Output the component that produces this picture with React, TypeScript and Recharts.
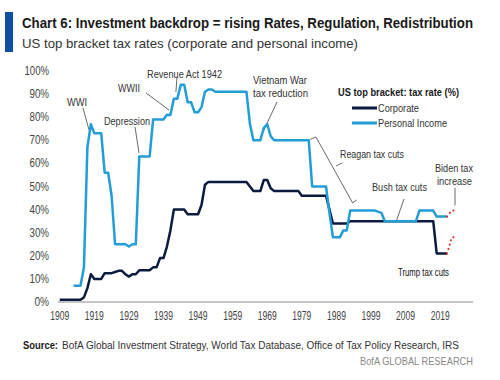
import React from 'react';
import { LineChart, Line, XAxis, YAxis, ReferenceLine } from 'recharts';

const years = [
  1909, 1910, 1911, 1912, 1913, 1914, 1915, 1916, 1917, 1918,
  1919, 1920, 1921, 1922, 1923, 1924, 1925, 1926, 1927, 1928,
  1929, 1930, 1931, 1932, 1933, 1934, 1935, 1936, 1937, 1938,
  1939, 1940, 1941, 1942, 1943, 1944, 1945, 1946, 1947, 1948,
  1949, 1950, 1951, 1952, 1953, 1954, 1955, 1956, 1957, 1958,
  1959, 1960, 1961, 1962, 1963, 1964, 1965, 1966, 1967, 1968,
  1969, 1970, 1971, 1972, 1973, 1974, 1975, 1976, 1977, 1978,
  1979, 1980, 1981, 1982, 1983, 1984, 1985, 1986, 1987, 1988,
  1989, 1990, 1991, 1992, 1993, 1994, 1995, 1996, 1997, 1998,
  1999, 2000, 2001, 2002, 2003, 2004, 2005, 2006, 2007, 2008,
  2009, 2010, 2011, 2012, 2013, 2014, 2015, 2016, 2017, 2018,
  2019, 2020, 2021,
];

const corporate = [
  1, 1, 1, 1, 1, 1, 1, 2, 6, 12,
  10, 10, 10, 12.5, 12.5, 12.5, 13, 13.5, 13.5, 12,
  11, 12, 12, 13.75, 13.75, 13.75, 13.75, 15, 15, 19,
  19, 24, 31, 40, 40, 40, 40, 38, 38, 38,
  38, 42, 50.75, 52, 52, 52, 52, 52, 52, 52,
  52, 52, 52, 52, 52, 50, 48, 48, 48, 52.8,
  52.8, 49.2, 48, 48, 48, 48, 48, 48, 48, 48,
  46, 46, 46, 46, 46, 46, 46, 46, 40, 34,
  34, 34, 34, 34, 35, 35, 35, 35, 35, 35,
  35, 35, 35, 35, 35, 35, 35, 35, 35, 35,
  35, 35, 35, 35, 35, 35, 35, 35, 35, 21,
  21, 21, 21,
];

const personal = [
  null, null, null, null, 7, 7, 7, 15, 67, 77,
  73, 73, 73, 56, 56, 46, 25, 25, 25, 25,
  24, 25, 25, 63, 63, 63, 63, 79, 79, 79,
  79, 81.1, 81, 88, 88, 94, 94, 86.45, 86.45, 82.13,
  82.13, 84.36, 91, 92, 92, 91, 91, 91, 91, 91,
  91, 91, 91, 91, 91, 77, 70, 70, 70, 75.25,
  77, 71.75, 70, 70, 70, 70, 70, 70, 70, 70,
  70, 70, 70, 50, 50, 50, 50, 50, 38.5, 28,
  28, 28, 31, 31, 39.6, 39.6, 39.6, 39.6, 39.6, 39.6,
  39.6, 39.6, 39.1, 38.6, 35, 35, 35, 35, 35, 35,
  35, 35, 35, 35, 39.6, 39.6, 39.6, 39.6, 39.6, 37,
  37, 37, 37,
];

const bidenYears = [2021, 2022.4, 2024];
const bidenCorporate = [21, 28, 28];
const bidenPersonal = [37, 39.6, 39.6];

const xTicks = [1909, 1919, 1929, 1939, 1949, 1959, 1969, 1979, 1989, 1999, 2009, 2019];
const yTicks = [0, 10, 20, 30, 40, 50, 60, 70, 80, 90, 100];

const data = years.map((year, i) => ({ year, corporate: corporate[i], personal: personal[i] }));
const bidenData = bidenYears.map((year, i) => ({ year, corp: bidenCorporate[i], pers: bidenPersonal[i] }));

const FONT = "'Liberation Sans Narrow', 'Liberation Sans', Arial, sans-serif";
const DARK = '#0b1a3f';
const LIGHT = '#229dd8';
const RED = '#e0231c';
const LEAD = '#444';

// leader lines in data coordinates
const leaders: { a: [number, number]; b: [number, number] }[] = [
  { a: [1915.73, 84.0], b: [1917.46, 74.5] },
  { a: [1930.77, 75.8], b: [1931.92, 64.5] },
  { a: [1933.95, 90.5], b: [1940.6, 83.1] },
  { a: [1942.9, 97.4], b: [1942.6, 90.9] },
  { a: [1971.83, 86.6], b: [1967.78, 73.6] },
  { a: [1981.4, 70.4], b: [1983.1, 71.4] },
  { a: [1983.1, 71.4], b: [1993.7, 42.9] },
  { a: [1993.7, 42.9], b: [1994.9, 44.2] },
  { a: [1988.9, 58.9], b: [1990.7, 60.2] },
  { a: [2008.55, 44.6], b: [2006.23, 34.6] },
  { a: [2023.3, 49.4], b: [2023.3, 41.8] },
];

type TProps = { x1: number; x2: number; y: number; size: number; weight?: string | number; fill?: string; children: string };
const T = ({ x1, x2, y, size, weight = 'normal', fill = '#333', children }: TProps) => (
  <text
    x={x1}
    y={y}
    dominantBaseline="central"
    textLength={x2 - x1}
    lengthAdjust="spacingAndGlyphs"
    fontSize={size}
    fontWeight={weight}
    fill={fill}
    fontFamily={FONT}
  >
    {children}
  </text>
);

const XTick = (props: any) => {
  const { x, y, payload } = props;
  return (
    <text
      x={x}
      y={y + 6}
      textAnchor="middle"
      dominantBaseline="central"
      fontSize={12}
      fill="#444"
      fontFamily={FONT}
      textLength={19}
      lengthAdjust="spacingAndGlyphs"
    >
      {String(payload.value)}
    </text>
  );
};

const YTick = (props: any) => {
  const { x, y, payload } = props;
  const label = `${payload.value}%`;
  const len = (label.length - 1) * 5 + 9.5;
  return (
    <text
      x={x}
      y={y}
      textAnchor="end"
      dominantBaseline="central"
      fontSize={12}
      fill="#444"
      fontFamily={FONT}
      textLength={len}
      lengthAdjust="spacingAndGlyphs"
    >
      {label}
    </text>
  );
};

export default function App() {
  return (
    <div style={{ position: 'absolute', left: 0, top: 0, width: 500, height: 380, background: '#fff', overflow: 'hidden' }}>
      <LineChart
        width={500}
        height={380}
        data={data}
        margin={{ top: 71, right: 27, bottom: 48, left: 8 }}
      >
        <XAxis
          dataKey="year"
          type="number"
          domain={[1908.5, 2028.5]}
          ticks={xTicks}
          allowDataOverflow
          tickLine={false}
          axisLine={{ stroke: '#8a8a8a', strokeWidth: 1.2 }}
          tick={<XTick />}
          interval={0}
        />
        <YAxis
          type="number"
          domain={[0, 100]}
          ticks={yTicks}
          width={50}
          axisLine={false}
          tickLine={false}
          tickMargin={3}
          tick={<YTick />}
        />
        {leaders.map((l, i) => (
          <ReferenceLine
            key={i}
            segment={[{ x: l.a[0], y: l.a[1] }, { x: l.b[0], y: l.b[1] }]}
            stroke={LEAD}
            strokeWidth={0.8}
            ifOverflow="visible"
          />
        ))}
        <Line
          dataKey="corporate"
          stroke={DARK}
          strokeWidth={2.5}
          dot={false}
          isAnimationActive={false}
          strokeLinejoin="round"
        />
        <Line
          dataKey="personal"
          stroke={LIGHT}
          strokeWidth={2.5}
          dot={false}
          isAnimationActive={false}
          strokeLinejoin="round"
        />
        <Line
          data={bidenData}
          dataKey="corp"
          stroke={RED}
          strokeWidth={2}
          strokeDasharray="0.1 4.5"
          strokeLinecap="round"
          dot={false}
          isAnimationActive={false}
        />
        <Line
          data={bidenData}
          dataKey="pers"
          stroke={RED}
          strokeWidth={2}
          strokeDasharray="0.1 4.5"
          strokeLinecap="round"
          dot={false}
          isAnimationActive={false}
        />
      </LineChart>
      <svg width={500} height={380} style={{ position: 'absolute', left: 0, top: 0, pointerEvents: 'none' }}>
        <rect x={5} y={12} width={8} height={40} fill="#0c4ea2" />
        <T x1={22} x2={473} y={23} size={13.8} weight="bold" fill="#1a1a1a">Chart 6: Investment backdrop = rising Rates, Regulation, Redistribution</T>
        <T x1={22} x2={358} y={43} size={13} fill="#333">US top bracket tax rates (corporate and personal income)</T>

        <T x1={67} x2={87} y={102} size={11.5}>WWI</T>
        <T x1={104} x2={150} y={121} size={11.5}>Depression</T>
        <T x1={118} x2={140} y={88} size={11.5}>WWII</T>
        <T x1={147} x2={222} y={74} size={11.5}>Revenue Act 1942</T>
        <T x1={253} x2={307} y={80} size={11.5}>Vietnam War</T>
        <T x1={253} x2={308} y={93} size={11.5}>tax reduction</T>
        <T x1={340} x2={404} y={154} size={11.5}>Reagan tax cuts</T>
        <T x1={372} x2={427} y={187} size={11.5}>Bush tax cuts</T>
        <T x1={435} x2={473} y={168} size={11.5}>Biden tax</T>
        <T x1={437} x2={472} y={181} size={11.5}>increase</T>
        <T x1={398} x2={449} y={272} size={10} fill="#111">Trump tax cuts</T>

        <T x1={338} x2={459} y={92} size={11.5} weight="bold" fill="#1a1a1a">US top bracket: tax rate (%)</T>
        <line x1={352} x2={377} y1={108} y2={108} stroke={DARK} strokeWidth={3} />
        <T x1={378} x2={419} y={108} size={11.5}>Corporate</T>
        <line x1={352} x2={377} y1={123} y2={123} stroke={LIGHT} strokeWidth={3} />
        <T x1={378} x2={447} y={123} size={11.5}>Personal Income</T>

        <T x1={23} x2={58} y={345} size={11} weight="bold" fill="#1a1a1a">Source:</T>
        <T x1={62} x2={459} y={345} size={11} fill="#333">BofA Global Investment Strategy, World Tax Database, Office of Tax Policy Research, IRS</T>
        <T x1={360} x2={473} y={361} size={11} fill="#8a8a8a">BofA GLOBAL RESEARCH</T>
      </svg>
    </div>
  );
}
